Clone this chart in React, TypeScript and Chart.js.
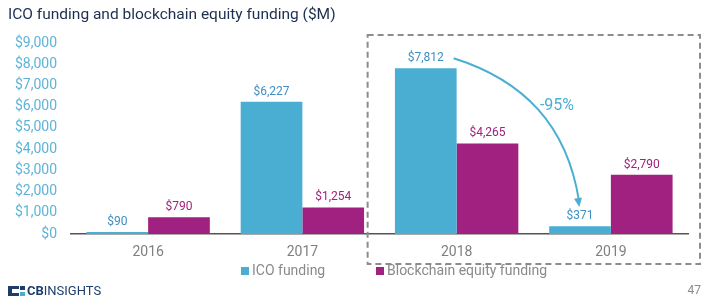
import React, { useEffect, useRef } from "react";
import { Chart, registerables } from "chart.js";

Chart.register(...registerables);

const categories = ["2016", "2017", "2018", "2019"];
const icoFunding = [90, 6227, 7812, 371];
const equityFunding = [790, 1254, 4265, 2790];
const seriesNames = ["ICO funding", "Blockchain equity funding"];
const yTickValues = [0, 1000, 2000, 3000, 4000, 5000, 6000, 7000, 8000, 9000];
const titleText = "ICO funding and blockchain equity funding ($M)";
const changeLabel = "-95%";
const pageNumber = "47";

const ICO_COLOR = "#4aaed3";
const ICO_LABEL = "#3f8fc0";
const EQ_COLOR = "#a0217f";
const FONT = "Roboto, 'Noto Sans', sans-serif";

const fmt = (v: number) => "$" + v.toLocaleString("en-US");

const overlay = {
  id: "overlay",
  afterDraw(chart: any) {
    const ctx = chart.ctx as CanvasRenderingContext2D;
    const area = chart.chartArea;
    const xs = chart.scales.x;
    ctx.save();

    // title
    ctx.fillStyle = "#1c2f4f";
    ctx.font = `15.5px ${FONT}`;
    ctx.textAlign = "left";
    ctx.textBaseline = "middle";
    ctx.fillText(titleText, 8, 15);

    // data labels
    ctx.font = `12px ${FONT}`;
    ctx.textAlign = "center";
    ctx.textBaseline = "middle";
    const labelY: number[][] = [[], []];
    [0, 1].forEach((di) => {
      const meta = chart.getDatasetMeta(di);
      const vals = di === 0 ? icoFunding : equityFunding;
      meta.data.forEach((bar: any, i: number) => {
        ctx.fillStyle = di === 0 ? ICO_LABEL : EQ_COLOR;
        const y = bar.y - 10;
        labelY[di][i] = y;
        ctx.fillText(fmt(vals[i]), bar.x, y);
      });
    });

    // dashed box around 2018-2019
    const left = xs.getPixelForValue(2) - 89;
    const right = area.right + 12;
    ctx.setLineDash([6, 4]);
    ctx.strokeStyle = "#8c8c8c";
    ctx.lineWidth = 2;
    ctx.strokeRect(left, 35, right - left, 229);
    ctx.setLineDash([]);

    // arrow from 2018 ICO to 2019 ICO
    const m0 = chart.getDatasetMeta(0);
    const b18 = m0.data[2];
    const b19 = m0.data[3];
    const sx = b18.x + b18.width / 2 - 3;
    const sy = labelY[0][2];
    const ex = b19.x - 1;
    const ey = labelY[0][3] - 11;
    const c1x = sx + 70, c1y = sy + 22;
    const c2x = ex - 12, c2y = ey - 80;
    ctx.strokeStyle = ICO_COLOR;
    ctx.lineWidth = 2;
    ctx.beginPath();
    ctx.moveTo(sx, sy);
    ctx.bezierCurveTo(c1x, c1y, c2x, c2y, ex, ey - 4);
    ctx.stroke();
    // arrowhead
    const ang = Math.atan2(ey - c2y, ex - c2x);
    ctx.fillStyle = ICO_COLOR;
    ctx.beginPath();
    ctx.moveTo(ex + Math.cos(ang) * 2, ey + Math.sin(ang) * 2);
    ctx.lineTo(ex - Math.cos(ang) * 7 - Math.sin(ang) * 4, ey - Math.sin(ang) * 7 + Math.cos(ang) * 4);
    ctx.lineTo(ex - Math.cos(ang) * 7 + Math.sin(ang) * 4, ey - Math.sin(ang) * 7 - Math.cos(ang) * 4);
    ctx.closePath();
    ctx.fill();

    // -95%
    ctx.fillStyle = ICO_COLOR;
    ctx.font = `16px ${FONT}`;
    ctx.textAlign = "center";
    ctx.fillText(changeLabel, 557, 106);

    // legend
    ctx.font = `14px ${FONT}`;
    ctx.textAlign = "left";
    const legendItems = [
      { x: 241, color: ICO_COLOR, text: seriesNames[0] },
      { x: 376, color: EQ_COLOR, text: seriesNames[1] },
    ];
    legendItems.forEach((it) => {
      ctx.fillStyle = it.color;
      ctx.fillRect(it.x, 267, 8, 8);
      ctx.fillStyle = "#8a8a8a";
      ctx.fillText(it.text, it.x + 11, 271.5);
    });

    // logo
    ctx.fillStyle = "#1d3d6b";
    ctx.fillRect(8, 286, 11, 10);
    ctx.fillStyle = "#ffffff";
    ctx.fillRect(12, 289, 7, 4);
    ctx.fillStyle = "#1d3d6b";
    ctx.fillRect(20, 286, 5, 4);
    ctx.fillStyle = "#4aaed3";
    ctx.fillRect(20, 292, 5, 4);
    ctx.fillStyle = "#1d3d6b";
    ctx.font = `bold 13px ${FONT}`;
    ctx.fillText("CB", 27, 291.5);
    const w = ctx.measureText("CB").width;
    ctx.font = `13px ${FONT}`;
    ctx.fillText("INSIGHTS", 27 + w, 291.5);

    // page number
    ctx.fillStyle = "#8a8a8a";
    ctx.font = `12px ${FONT}`;
    ctx.textAlign = "right";
    ctx.fillText(pageNumber, 701, 291);

    ctx.restore();
  },
};

export default function App() {
  const ref = useRef<HTMLCanvasElement | null>(null);
  useEffect(() => {
    if (!ref.current) return;
    const chart = new Chart(ref.current, {
      type: "bar",
      data: {
        labels: categories,
        datasets: [
          {
            label: seriesNames[0],
            data: icoFunding,
            backgroundColor: ICO_COLOR,
            categoryPercentage: 0.8,
            barPercentage: 1.0,
          },
          {
            label: seriesNames[1],
            data: equityFunding,
            backgroundColor: EQ_COLOR,
            categoryPercentage: 0.8,
            barPercentage: 1.0,
          },
        ],
      },
      options: {
        responsive: false,
        animation: false,
        layout: { padding: { left: 0, top: 43, right: 32, bottom: 0 } },
        plugins: {
          legend: { display: false },
          title: { display: false },
          tooltip: { enabled: false },
        },
        scales: {
          x: {
            grid: { display: false, drawTicks: false },
            border: { display: true, color: "#555555", width: 1.5 },
            ticks: {
              color: "#7f7f7f",
              font: { family: FONT, size: 14 },
              padding: 10,
            },
            afterFit: (s: any) => {
              s.height = 74;
            },
          },
          y: {
            min: 0,
            max: 9000,
            grid: { display: false, drawTicks: false },
            border: { display: false },
            afterBuildTicks: (s: any) => {
              s.ticks = yTickValues.map((v) => ({ value: v }));
            },
            ticks: {
              color: "#5db4d9",
              font: { family: FONT, size: 14 },
              padding: 14,
              callback: (v: any) => fmt(Number(v)),
            },
            afterFit: (s: any) => {
              s.width = 71;
            },
          },
        },
      },
      plugins: [overlay],
    });
    return () => chart.destroy();
  }, []);
  return (
    <div style={{ position: "absolute", left: 0, top: 0, width: 720, height: 308, background: "#fff" }}>
      <canvas ref={ref} width={720} height={308} style={{ display: "block" }} />
    </div>
  );
}
